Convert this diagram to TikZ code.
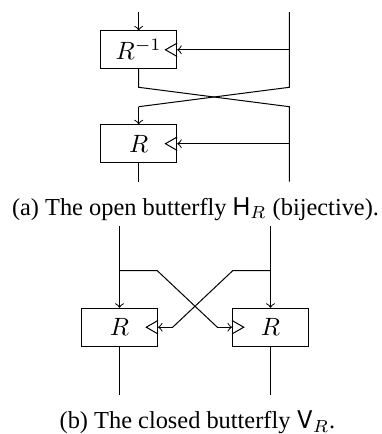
\documentclass[tikz,border=0pt]{standalone}
\usepackage{fontspec}
\setmainfont{Liberation Serif}
\setsansfont{TeX Gyre Heros}
\begin{document}
\begin{tikzpicture}[x=0.4pt,y=-0.4pt,
  blk/.style={draw, rectangle, minimum width=30.4pt, minimum height=15.1pt, inner sep=0pt},
  arr/.style={->},
  captxt/.style={inner sep=0pt, anchor=base, font=\fontsize{9.75}{12}\selectfont}]
\useasboundingbox (0,0) rectangle (381,434);
% ---------- (a) ----------
\node[blk] (b1) at (138.7,49.8) {$R^{-1}$};
\node[blk] (b2) at (138.7,143.7) {$R$};
\coordinate (ain) at (138.7,12);
\coordinate (rtop) at (289.3,12);
\coordinate (rmid1) at (289.3,49.8);
\coordinate (rx1) at (289.3,87.3);
\coordinate (lx2) at (138.7,106.7);
\coordinate (lx1) at (138.7,87.3);
\coordinate (rx2) at (289.3,106.7);
\coordinate (rmid2) at (289.3,143.7);
\coordinate (rbot) at (289.3,181.7);
\coordinate (lbot) at (138.7,181.7);
\draw[arr] (ain) -- (b1.north);
\draw (rtop) -- (rx1) -- (lx2);
\draw[arr] (lx2) -- (b2.north);
\draw (b1.south) -- (lx1) -- (rx2) -- (rbot);
\draw[arr] (rmid1) -- (b1.east);
\draw[arr] (rmid2) -- (b2.east);
\draw (b2.south) -- (lbot);
\foreach \b in {b1,b2}
  \draw ([yshift=2.7pt]\b.east) -- ([xshift=-4.7pt]\b.east) -- ([yshift=-2.7pt]\b.east);
\node[captxt] (capa) at (195.5,215) {(a) The open butterfly $\mathsf{H}_R$ (bijective).};
% ---------- (b) ----------
\node[blk] (L) at (119.5,327.2) {$R$};
\node[blk] (Rb) at (270.5,327.2) {$R$};
\coordinate (ltop) at (119.5,226);
\coordinate (rtopb) at (270.5,226);
\coordinate (lbr) at (119.5,270.7);
\coordinate (lbr2) at (157.3,270.7);
\coordinate (ld) at (217.3,327.2);
\coordinate (rbr) at (270.5,270.7);
\coordinate (rbr2) at (232.7,270.7);
\coordinate (rd) at (172.7,327.2);
\coordinate (lbotb) at (119.5,395);
\coordinate (rbotb) at (270.5,395);
\draw[arr] (ltop) -- (L.north);
\draw[arr] (rtopb) -- (Rb.north);
\draw (lbr) -- (lbr2) -- (ld);
\draw[arr] (ld) -- (Rb.west);
\draw (rbr) -- (rbr2) -- (rd);
\draw[arr] (rd) -- (L.east);
\draw (L.south) -- (lbotb);
\draw (Rb.south) -- (rbotb);
\draw ([yshift=2.7pt]L.east) -- ([xshift=-4.7pt]L.east) -- ([yshift=-2.7pt]L.east);
\draw ([yshift=2.7pt]Rb.west) -- ([xshift=4.7pt]Rb.west) -- ([yshift=-2.7pt]Rb.west);
\node[captxt] (capb) at (197.5,428.5) {(b) The closed butterfly $\mathsf{V}_R$.};
\end{tikzpicture}
\end{document}
